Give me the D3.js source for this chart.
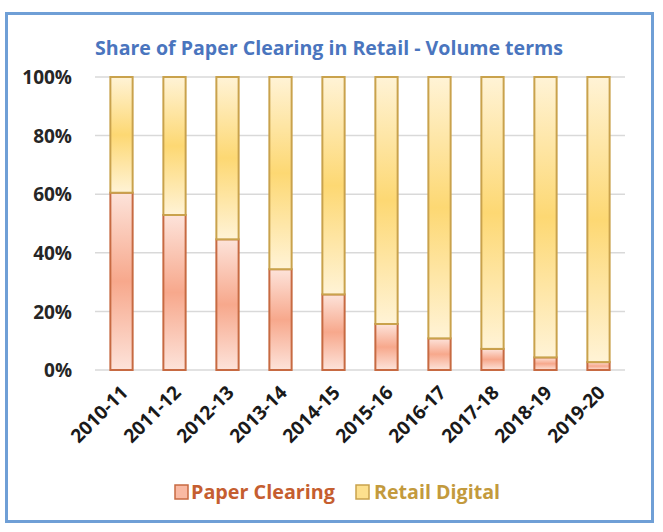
<!DOCTYPE html>
<html>
<head>
<meta charset="utf-8">
<script src="https://cdn.jsdelivr.net/npm/d3@7"></script>
<style>
  html, body { margin: 0; padding: 0; background: #fff; }
  svg { display: block; }
</style>
</head>
<body>
<svg id="chart" width="663" height="532"></svg>
<script>
const categories = ["2010-11","2011-12","2012-13","2013-14","2014-15","2015-16","2016-17","2017-18","2018-19","2019-20"];
const paperClearing = [60.5, 52.9, 44.6, 34.4, 25.8, 15.7, 10.8, 7.2, 4.3, 2.7];
const retailDigital = paperClearing.map(v => 100 - v);
const yTicks = [0, 20, 40, 60, 80, 100];
const seriesNames = ["Paper Clearing", "Retail Digital"];

const svg = d3.select("#chart");
const font = "'Open Sans', 'Liberation Sans', sans-serif";

// gradients
const defs = svg.append("defs");
function grad(id, edge, mid) {
  const g = defs.append("linearGradient").attr("id", id)
    .attr("x1", 0).attr("y1", 0).attr("x2", 0).attr("y2", 1);
  g.append("stop").attr("offset", "0%").attr("stop-color", edge);
  g.append("stop").attr("offset", "50%").attr("stop-color", mid);
  g.append("stop").attr("offset", "100%").attr("stop-color", edge);
}
grad("gPaper", "#fde3da", "#f7a88c");
grad("gDigital", "#fff3d6", "#fdd873");

// outer border
svg.append("rect").attr("x", 6.5).attr("y", 13.5).attr("width", 646).attr("height", 508)
  .attr("fill", "#fff").attr("stroke", "#6f9fd6").attr("stroke-width", 3);

const x = d3.scaleBand().domain(categories).range([95, 625]).paddingInner(0.58).paddingOuter(0.29);
const y = d3.scaleLinear().domain([0, 100]).range([370, 77]);

// gridlines
svg.append("g").selectAll("line").data(yTicks).join("line")
  .attr("x1", 95).attr("x2", 625)
  .attr("y1", d => y(d)).attr("y2", d => y(d))
  .attr("stroke", "#d9d9d9").attr("stroke-width", 1.5);

// y axis labels
const yAxis = d3.axisLeft(y).tickValues(yTicks).tickFormat(d => d + "%").tickSize(0).tickPadding(0);
const yg = svg.append("g").attr("transform", "translate(72,0)").call(yAxis);
yg.select(".domain").remove();
yg.selectAll("text").attr("font-family", font).attr("font-weight", 700)
  .attr("font-size", 19).attr("fill", "#262626").attr("dy", "0.35em");

// stacked bars
const stackData = categories.map((c, i) => ({ cat: c, paper: paperClearing[i], digital: retailDigital[i] }));
const stack = d3.stack().keys(["paper", "digital"])(stackData);
const fills = { paper: "url(#gPaper)", digital: "url(#gDigital)" };
const strokes = { paper: "#c76a42", digital: "#c9a24c" };

svg.append("g").selectAll("g").data(stack).join("g")
  .each(function(layer) {
    d3.select(this).selectAll("rect").data(layer).join("rect")
      .attr("x", d => x(d.data.cat))
      .attr("width", x.bandwidth())
      .attr("y", d => y(d[1]))
      .attr("height", d => y(d[0]) - y(d[1]))
      .attr("fill", fills[layer.key])
      .attr("stroke", strokes[layer.key])
      .attr("stroke-width", 2);
  });

// x axis labels
const xAxis = d3.axisBottom(x).tickSize(0).tickPadding(0);
const xg = svg.append("g").attr("transform", "translate(0,370)").call(xAxis);
xg.select(".domain").remove();
xg.selectAll("text")
  .attr("font-family", font).attr("font-weight", 700).attr("font-size", 19)
  .attr("fill", "#1a1a1a")
  .attr("text-anchor", "end")
  .attr("dy", "0.35em")
  .attr("transform", "translate(3,19) rotate(-45)");

// title
svg.append("text").attr("x", 329).attr("y", 55)
  .attr("text-anchor", "middle")
  .attr("font-family", font).attr("font-weight", 700).attr("font-size", 20)
  .attr("fill", "#4a75be")
  .attr("textLength", 468).attr("lengthAdjust", "spacingAndGlyphs")
  .text("Share of Paper Clearing in Retail - Volume terms");

// legend
const legend = [
  { name: seriesNames[0], fill: "#f9b9a3", stroke: "#c76a42", color: "#c55e30", sx: 175, tx: 191, len: 144 },
  { name: seriesNames[1], fill: "#fde08e", stroke: "#c9a24c", color: "#c39a3d", sx: 356, tx: 374, len: 126 }
];
const lg = svg.append("g");
legend.forEach(l => {
  lg.append("rect").attr("x", l.sx).attr("y", 485).attr("width", 13).attr("height", 14)
    .attr("fill", l.fill).attr("stroke", l.stroke).attr("stroke-width", 1.5);
  lg.append("text").attr("x", l.tx).attr("y", 499)
    .attr("font-family", font).attr("font-weight", 700).attr("font-size", 20)
    .attr("fill", l.color)
    .attr("textLength", l.len).attr("lengthAdjust", "spacingAndGlyphs")
    .text(l.name);
});
</script>
</body>
</html>
